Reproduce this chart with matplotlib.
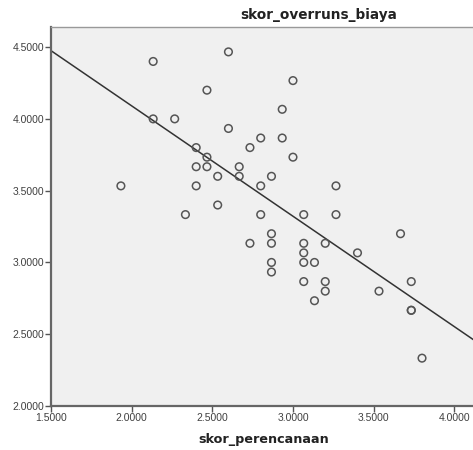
import numpy as np
import matplotlib
matplotlib.use("Agg")
import matplotlib.pyplot as plt

# skor_perencanaan (x) vs skor_overruns_biaya (y)
skor_perencanaan = [
    2.6000, 2.1333, 2.4667, 3.0000, 2.9333, 2.1333, 2.2667, 2.6000, 2.8000, 2.9333,
    2.4000, 2.7333, 2.4667, 3.0000, 2.4000, 2.4667, 2.6667, 2.5333, 2.6667, 2.8667,
    1.9333, 2.4000, 2.8000, 3.2667, 2.5333, 2.3333, 2.8000, 3.0667, 3.2667, 2.8667,
    3.6667, 2.7333, 2.8667, 3.0667, 3.2000, 3.0667, 3.4000, 2.8667, 3.0667, 3.1333,
    2.8667, 3.0667, 3.2000, 3.7333, 3.2000, 3.5333, 3.1333, 3.7333, 3.7333, 3.8000,
]
skor_overruns_biaya = [
    4.4667, 4.4000, 4.2000, 4.2667, 4.0667, 4.0000, 4.0000, 3.9333, 3.8667, 3.8667,
    3.8000, 3.8000, 3.7333, 3.7333, 3.6667, 3.6667, 3.6667, 3.6000, 3.6000, 3.6000,
    3.5333, 3.5333, 3.5333, 3.5333, 3.4000, 3.3333, 3.3333, 3.3333, 3.3333, 3.2000,
    3.2000, 3.1333, 3.1333, 3.1333, 3.1333, 3.0667, 3.0667, 3.0000, 3.0000, 3.0000,
    2.9333, 2.8667, 2.8667, 2.8667, 2.8000, 2.8000, 2.7333, 2.6667, 2.6667, 2.3333,
]
x_ticks = [1.5, 2.0, 2.5, 3.0, 3.5, 4.0]
y_ticks = [2.0, 2.5, 3.0, 3.5, 4.0, 4.5]

x = np.array(skor_perencanaan)
y = np.array(skor_overruns_biaya)

plt.rcParams["font.family"] = ["Liberation Sans", "DejaVu Sans"]

fig = plt.figure(figsize=(4.73, 4.5), dpi=100)
ax = fig.add_axes([51 / 473, 1 - 406 / 450, 1 - 51 / 473, (406 - 27) / 450])
ax.set_facecolor("#f0f0f0")

ax.scatter(x, y, s=30, facecolors="none", edgecolors="#555555", linewidths=1.1, zorder=3)

# least-squares fit line, as SPSS draws it
slope, intercept = np.polyfit(x, y, 1)
xl = np.array([1.5, 4.2])
ax.plot(xl, intercept + slope * xl, color="#333333", lw=1.1, zorder=2)

ax.set_xlim(1.5, 4.116)
ax.set_ylim(2.0, 4.64)
ax.set_xticks(x_ticks)
ax.set_yticks(y_ticks)
ax.set_xticklabels([f"{v:.4f}" for v in x_ticks])
ax.set_yticklabels([f"{v:.4f}" for v in y_ticks])
ax.tick_params(labelsize=7.5, colors="#555555", length=4, width=1, pad=1)
for lab in ax.get_xticklabels() + ax.get_yticklabels():
    lab.set_color("#404040")

for side in ("left", "bottom"):
    ax.spines[side].set_color("#666666")
    ax.spines[side].set_linewidth(1.6)
ax.spines["top"].set_color("#999999")
ax.spines["top"].set_linewidth(1.0)
ax.spines["right"].set_visible(False)

fig.text(319 / 473, 1 - 15 / 450, "skor_overruns_biaya", ha="center", va="center",
         fontsize=9.8, fontweight="bold", color="#222222", family="DejaVu Sans")
fig.text(264 / 473, 1 - 440 / 450, "skor_perencanaan", ha="center", va="center",
         fontsize=9.2, fontweight="bold", color="#222222", family="DejaVu Sans")

fig.savefig("out.png", dpi=100, facecolor="white")
